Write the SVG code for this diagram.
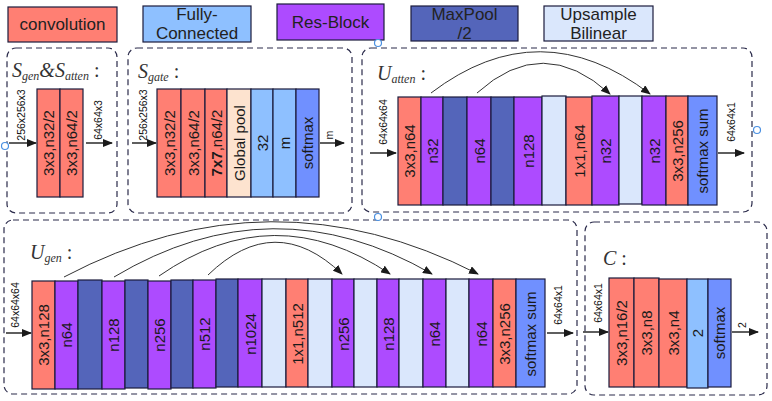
<svg xmlns="http://www.w3.org/2000/svg" width="772" height="401" viewBox="0 0 772 401">
<defs>
<marker id="ah" markerWidth="10" markerHeight="8" refX="9" refY="4" orient="auto" markerUnits="userSpaceOnUse">
<path d="M0,0 L10,4 L0,8 Z" fill="#1a1a1a"/>
</marker>
<style>
.b{stroke:#1c1c3c;stroke-width:1.2}
.conv{fill:#FF7F73}.fc{fill:#8EC0FF}.res{fill:#AD4BFF}.mp{fill:#5465BA}.up{fill:#DAE7FC}.sm{fill:#7090FF}.gp{fill:#FDE3CF}
.t{font-family:"Liberation Sans",Arial,sans-serif;font-size:15px;fill:#1a1a1a;text-anchor:middle;dominant-baseline:central}
.lg{font-family:"Liberation Sans",Arial,sans-serif;font-size:17px;fill:#222;text-anchor:middle}
.s{font-family:"Liberation Sans",Arial,sans-serif;font-size:10.5px;fill:#111;text-anchor:middle;dominant-baseline:central}
.p{fill:none;stroke:#2a2a4a;stroke-width:1.2;stroke-dasharray:6 4}
.m{font-family:"Liberation Serif","DejaVu Serif",serif;font-style:italic;fill:#333}
.a{stroke:#1a1a1a;stroke-width:1.4;fill:none}
.k{stroke:#333;stroke-width:1;fill:none}
.h{fill:#fff;stroke:#4a90e2;stroke-width:1.2}
</style>
</defs>
<rect width="772" height="401" fill="#fff"/>

<g id="legend">
<g id="lg-conv"><rect class="b conv" x="8" y="7" width="109" height="35"/><text class="lg" x="62.5" y="30">convolution</text></g>
<g id="lg-fc"><rect class="b fc" x="143" y="6" width="108" height="36"/><text class="lg" x="197" y="20">Fully-</text><text class="lg" x="197" y="39">Connected</text></g>
<g id="lg-res"><rect class="b res" x="277" y="4" width="107" height="36"/><text class="lg" x="330.5" y="28">Res-Block</text></g>
<g id="lg-mp"><rect class="b mp" x="411" y="6" width="107" height="35"/><text class="lg" x="464.5" y="20">MaxPool</text><text class="lg" x="464.5" y="39">/2</text></g>
<g id="lg-up"><rect class="b up" x="544" y="6" width="109" height="35"/><text class="lg" x="598.5" y="20">Upsample</text><text class="lg" x="598.5" y="39">Bilinear</text></g>
</g>

<g id="panels">
<rect class="p" x="7" y="48" width="110" height="165" rx="9"/>
<rect class="p" x="128" y="48" width="224" height="165" rx="9"/>
<rect class="p" x="362" y="48" width="390" height="164" rx="9"/>
<rect class="p" x="4" y="220" width="573" height="174" rx="9"/>
<rect class="p" x="585" y="222" width="182" height="173" rx="9"/>
</g>

<g id="titles">
<text class="m" x="12" y="77" font-size="20">S<tspan font-size="12" dy="3">gen</tspan><tspan dy="-3">&amp;S</tspan><tspan font-size="12" dy="3">atten</tspan><tspan dy="-3" font-style="normal"> :</tspan></text>
<text class="m" x="138" y="78" font-size="20">S<tspan font-size="12" dy="3">gate</tspan><tspan dy="-3" font-style="normal"> :</tspan></text>
<text class="m" x="377" y="80" font-size="20">U<tspan font-size="12" dy="3">atten</tspan><tspan dy="-3" font-style="normal"> :</tspan></text>
<text class="m" x="30" y="259" font-size="20">U<tspan font-size="12" dy="3">gen</tspan><tspan dy="-3" font-style="normal"> :</tspan></text>
<text class="m" x="603" y="265" font-size="20">C<tspan font-style="normal"> :</tspan></text>
</g>

<g id="sgen">
<g id="sgen-1"><rect class="b conv" x="37" y="89" width="23" height="108"/><text class="t" transform="translate(48.5,143) rotate(-90)">3x3,n32/2</text></g>
<g id="sgen-2"><rect class="b conv" x="60" y="89" width="23" height="108"/><text class="t" transform="translate(71.5,143) rotate(-90)">3x3,n64/2</text></g>
</g>

<g id="sgate">
<g id="sgate-1"><rect class="b conv" x="157" y="89" width="24" height="108"/><text class="t" transform="translate(169,143) rotate(-90)">3x3,n32/2</text></g>
<g id="sgate-2"><rect class="b conv" x="181" y="89" width="24" height="108"/><text class="t" transform="translate(193,143) rotate(-90)">3x3,n64/2</text></g>
<g id="sgate-3"><rect class="b conv" x="205" y="89" width="22" height="108"/><text class="t" transform="translate(216,143) rotate(-90)"><tspan font-weight="bold">7x7</tspan>,n64/2</text></g>
<g id="sgate-4"><rect class="b gp" x="227" y="89" width="24" height="108"/><text class="t" transform="translate(239,143) rotate(-90)">Global pool</text></g>
<g id="sgate-5"><rect class="b fc" x="251" y="89" width="22" height="108"/><text class="t" transform="translate(262,143) rotate(-90)">32</text></g>
<g id="sgate-6"><rect class="b fc" x="273" y="89" width="23" height="108"/><text class="t" transform="translate(284.5,143) rotate(-90)">m</text></g>
<g id="sgate-7"><rect class="b sm" x="296" y="89" width="23" height="108"/><text class="t" transform="translate(307.5,143) rotate(-90)">softmax</text></g>
</g>

<g id="uatten">
<g id="ua-1"><rect class="b conv" x="398" y="97" width="23" height="108"/><text class="t" transform="translate(409.5,151) rotate(-90)">3x3,n64</text></g>
<g id="ua-2"><rect class="b res" x="421" y="97" width="22" height="108"/><text class="t" transform="translate(432,151) rotate(-90)">n32</text></g>
<g id="ua-3"><rect class="b mp" x="443" y="97" width="24" height="108"/></g>
<g id="ua-4"><rect class="b res" x="467" y="97" width="24" height="108"/><text class="t" transform="translate(479,151) rotate(-90)">n64</text></g>
<g id="ua-5"><rect class="b mp" x="491" y="97" width="23" height="108"/></g>
<g id="ua-6"><rect class="b res" x="514" y="97" width="28" height="108"/><text class="t" transform="translate(528,151) rotate(-90)">n128</text></g>
<g id="ua-7"><rect class="b up" x="542" y="96" width="24" height="109"/></g>
<g id="ua-8"><rect class="b conv" x="566" y="97" width="26" height="108"/><text class="t" transform="translate(579,151) rotate(-90)">1x1,n64</text></g>
<g id="ua-9"><rect class="b res" x="592" y="96" width="27" height="109"/><text class="t" transform="translate(605.5,151) rotate(-90)">n32</text></g>
<g id="ua-10"><rect class="b up" x="619" y="96" width="23" height="108"/></g>
<g id="ua-11"><rect class="b res" x="642" y="96" width="24" height="109"/><text class="t" transform="translate(654,151) rotate(-90)">n32</text></g>
<g id="ua-12"><rect class="b conv" x="666" y="96" width="22" height="109"/><text class="t" transform="translate(677,151) rotate(-90)">3x3,n256</text></g>
<g id="ua-13"><rect class="b sm" x="688" y="96" width="29" height="109"/><text class="t" transform="translate(702.5,151) rotate(-90)">softmax sum</text></g>
</g>

<g id="ugen">
<g id="ug-1"><rect class="b conv" x="32" y="281" width="23" height="108"/><text class="t" transform="translate(43.5,335) rotate(-90)">3x3,n128</text></g>
<g id="ug-2"><rect class="b res" x="55" y="281" width="23" height="108"/><text class="t" transform="translate(66.5,335) rotate(-90)">n64</text></g>
<g id="ug-3"><rect class="b mp" x="78" y="280" width="24" height="109"/></g>
<g id="ug-4"><rect class="b res" x="102" y="281" width="23" height="108"/><text class="t" transform="translate(113.5,335) rotate(-90)">n128</text></g>
<g id="ug-5"><rect class="b mp" x="125" y="280" width="23" height="108"/></g>
<g id="ug-6"><rect class="b res" x="148" y="281" width="23" height="108"/><text class="t" transform="translate(159.5,335) rotate(-90)">n256</text></g>
<g id="ug-7"><rect class="b mp" x="171" y="280" width="22" height="108"/></g>
<g id="ug-8"><rect class="b res" x="193" y="280" width="23" height="108"/><text class="t" transform="translate(204.5,334) rotate(-90)">n512</text></g>
<g id="ug-9"><rect class="b mp" x="216" y="279" width="22" height="108"/></g>
<g id="ug-10"><rect class="b res" x="238" y="279" width="24" height="108"/><text class="t" transform="translate(250,334) rotate(-90)">n1024</text></g>
<g id="ug-11"><rect class="b up" x="262" y="279" width="24" height="108"/></g>
<g id="ug-12"><rect class="b conv" x="286" y="279" width="22" height="108"/><text class="t" transform="translate(297,334) rotate(-90)">1x1,n512</text></g>
<g id="ug-13"><rect class="b up" x="308" y="279" width="24" height="108"/></g>
<g id="ug-14"><rect class="b res" x="332" y="279" width="22" height="108"/><text class="t" transform="translate(343,334) rotate(-90)">n256</text></g>
<g id="ug-15"><rect class="b up" x="354" y="279" width="23" height="108"/></g>
<g id="ug-16"><rect class="b res" x="377" y="279" width="22" height="108"/><text class="t" transform="translate(388,334) rotate(-90)">n128</text></g>
<g id="ug-17"><rect class="b up" x="399" y="279" width="24" height="108"/></g>
<g id="ug-18"><rect class="b res" x="423" y="279" width="23" height="108"/><text class="t" transform="translate(434.5,334) rotate(-90)">n64</text></g>
<g id="ug-19"><rect class="b up" x="446" y="279" width="23" height="108"/></g>
<g id="ug-20"><rect class="b res" x="469" y="279" width="24" height="108"/><text class="t" transform="translate(481,334) rotate(-90)">n64</text></g>
<g id="ug-21"><rect class="b conv" x="493" y="279" width="23" height="108"/><text class="t" transform="translate(504.5,334) rotate(-90)">3x3,n256</text></g>
<g id="ug-22"><rect class="b sm" x="516" y="279" width="29" height="108"/><text class="t" transform="translate(530.5,334) rotate(-90)">softmax sum</text></g>
</g>

<g id="cls">
<g id="c-1"><rect class="b conv" x="609" y="278" width="25" height="109"/><text class="t" transform="translate(621.5,333) rotate(-90)">3x3,n16/2</text></g>
<g id="c-2"><rect class="b conv" x="634" y="278" width="25" height="109"/><text class="t" transform="translate(646.5,333) rotate(-90)">3x3,n8</text></g>
<g id="c-3"><rect class="b conv" x="659" y="279" width="28" height="108"/><text class="t" transform="translate(673,333) rotate(-90)">3x3,n4</text></g>
<g id="c-4"><rect class="b fc" x="687" y="279" width="21" height="109"/><text class="t" transform="translate(697.5,333) rotate(-90)">2</text></g>
<g id="c-5"><rect class="b sm" x="708" y="279" width="23" height="108"/><text class="t" transform="translate(719.5,333) rotate(-90)">softmax</text></g>
</g>

<g id="connectors">
<line class="a" x1="9" y1="143" x2="36" y2="143" marker-end="url(#ah)"/>
<line class="a" x1="86" y1="143" x2="112" y2="143" marker-end="url(#ah)"/>
<line class="a" x1="132" y1="143" x2="156" y2="143" marker-end="url(#ah)"/>
<line class="a" x1="320" y1="143" x2="344" y2="143" marker-end="url(#ah)"/>
<line class="a" x1="370" y1="153" x2="396" y2="153" marker-end="url(#ah)"/>
<line class="a" x1="718" y1="153" x2="744" y2="153" marker-end="url(#ah)"/>
<line class="a" x1="6" y1="333" x2="31" y2="333" marker-end="url(#ah)"/>
<line class="a" x1="547" y1="333" x2="573" y2="333" marker-end="url(#ah)"/>
<line class="a" x1="583" y1="332" x2="608" y2="332" marker-end="url(#ah)"/>
<line class="a" x1="732" y1="332" x2="758" y2="332" marker-end="url(#ah)"/>
<path class="k" d="M431,93 Q540,10 650,94" marker-end="url(#ah)"/>
<path class="k" d="M477,93 Q543,33 610,94" marker-end="url(#ah)"/>
<path class="k" d="M64,277 Q271,168 478,274" marker-end="url(#ah)"/>
<path class="k" d="M114,277 Q273,182 432,274" marker-end="url(#ah)"/>
<path class="k" d="M159,276 Q274,196 390,274" marker-end="url(#ah)"/>
<path class="k" d="M208,275 Q275,210 342,274" marker-end="url(#ah)"/>
</g>

<g id="sizes">
<text class="s" transform="translate(21,115) rotate(-90)">256x256x3</text>
<text class="s" transform="translate(98,120) rotate(-90)">64x64x3</text>
<text class="s" transform="translate(143,115) rotate(-90)">256x256x3</text>
<text class="s" transform="translate(329,135) rotate(-90)">m</text>
<text class="s" transform="translate(383,122) rotate(-90)">64x64x64</text>
<text class="s" transform="translate(731,122) rotate(-90)">64x64x1</text>
<text class="s" transform="translate(15,305) rotate(-90)">64x64x64</text>
<text class="s" transform="translate(558,305) rotate(-90)">64x64x1</text>
<text class="s" transform="translate(598,303) rotate(-90)">64x64x1</text>
<text class="s" transform="translate(742,325) rotate(-90)">2</text>
</g>

<g id="handles">
<circle class="h" cx="378" cy="43" r="3.5"/>
<circle class="h" cx="378" cy="217" r="3.5"/>
<circle class="h" cx="757" cy="130" r="3.5"/>
<circle class="h" cx="5" cy="146" r="3.5"/>
</g>
</svg>
